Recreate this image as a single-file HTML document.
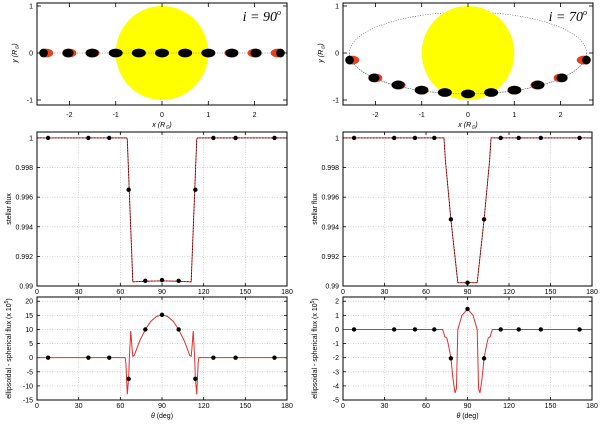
<!DOCTYPE html>
<html><head><meta charset="utf-8"><style>
html,body{margin:0;padding:0;background:#fff}
svg{display:block;font-family:"Liberation Sans",sans-serif}
</style></head><body>
<svg id="fig" width="600" height="425" viewBox="0 0 600 425" xmlns="http://www.w3.org/2000/svg"></svg>
<script>
// ---- data ----
const thetaTicks=[0,30,60,90,120,150,180];
const fluxTicks=[0.99,0.992,0.994,0.996,0.998,1];
const fluxTickLabels=["0.99","0.992","0.994","0.996","0.998","1"];
const diffTicksL=[-15,-10,-5,0,5,10,15,20];
const diffTicksR=[-5,-4,-3,-2,-1,0,1,2];
const xTicks=[-2,-1,0,1,2];
const yTicks=[-1,0,1];
// planets i=90
const planetX90=[-2.5,-2,-1.5,-1,-0.5,0,0.5,1,1.5,2,2.5];
const planetY90=[0,0,0,0,0,0,0,0,0,0,0];
const planetRed90=[0.55,0.3,0.1,0,0,0,0,0,-0.1,-0.3,-0.55];
// planets i=70
const planetX70=[-2.5,-2,-1.5,-1,-0.5,0,0.5,1,1.5,2,2.5];
const planetY70=[-0.15,-0.53,-0.68,-0.79,-0.84,-0.87,-0.84,-0.79,-0.68,-0.53,-0.15];
const planetRed70=[0.55,0.3,0.1,0.05,0,0,0,-0.05,-0.1,-0.3,-0.55];
// stellar flux
const ptTheta=[8,37,52,66,78,90,102,114,127,143,171];
const ptFluxL=[1,1,1,0.9965,0.99035,0.9904,0.99035,0.9965,1,1,1];
const ptFluxR=[1,1,1,1,0.9945,0.99022,0.9945,1,1,1,1];
const curveThetaL=[0,64.5,65,69,78,90,102,111,115,115.5,180];
const curveFluxL=[1,1,0.9999,0.99028,0.99032,0.99035,0.99032,0.99028,0.9999,1,1];
const curveThetaR=[0,73,74,78,83,90,97,102,106,107,180];
const curveFluxR=[1,1,0.9985,0.9945,0.99022,0.99022,0.99022,0.9945,0.9985,1,1];
// diff flux
const ptDiffL=[0,0,0,-7.5,10,15.2,10,-7.5,0,0,0];
const ptDiffR=[0,0,0,0,-2.05,1.45,-2.05,0,0,0,0];
const curveDThetaL=[0,63.5,64,65,66,66.5,67.5,68.5,69,70,74,78,82,86,90,94,98,102,106,110,111,111.5,112.5,113.5,114,115,116,116.5,180];
const curveDiffL=[0,0,-2,-13,-7,0,9.5,3,0.5,0.8,6,10,12.9,14.6,15.2,14.6,12.9,10,6,0.8,0.5,3,9.5,0,-7,-13,-2,0,0];
const curveDThetaR=[0,72,73,73.5,75,76,78,79.5,81,82,83,86,90,94,97,98,99,100.5,102,104,105,106.5,107,108,180];
const curveDiffR=[0,0,-0.3,-0.5,-0.6,-1,-2,-3.5,-4.5,-4.2,0,1,1.45,1,0,-4.2,-4.5,-3.5,-2,-1,-0.6,-0.5,-0.3,0,0];

const NS="http://www.w3.org/2000/svg";
const svg=document.getElementById('fig');
function el(tag,attrs,parent){const e=document.createElementNS(NS,tag);for(const k in attrs)e.setAttribute(k,attrs[k]);(parent||svg).appendChild(e);return e;}
function txt(x,y,s,anchor,size,parent,extra){const t=el('text',Object.assign({x:x,y:y,'text-anchor':anchor||'middle','font-size':size||7,fill:'#000'},extra||{}),parent);t.textContent=s;return t;}
function lin(a,b,c,d){return v=>c+(v-a)/(b-a)*(d-c);}

function frame(x0,y0,x1,y1,name){
  const r=el('rect',{x:x0,y:y0,width:x1-x0,height:y1-y0,fill:'none',stroke:'#000','stroke-width':1});
  
  
}

// ---------- top panels ----------
function topPanel(L,R,T,B,planX,planY,planRed,incl,name){
  const g=el('g',{});
  
  
  const sx=lin(-2.7,2.7,L,R), sy=lin(1,-1,6,100);
  if(incl===90){
    el('line',{x1:L,y1:sy(0),x2:R,y2:sy(0),stroke:'#555','stroke-dasharray':'1,1.5','stroke-width':0.6},g);
  }else{
    el('ellipse',{cx:sx(0),cy:sy(0),rx:sx(2.56)-sx(0),ry:sy(-0.87)-sy(0),fill:'none',stroke:'#555','stroke-dasharray':'1,1.5','stroke-width':0.6},g);
  }
  const sun=el('ellipse',{cx:sx(0),cy:sy(0),rx:sx(1)-sx(0),ry:sy(-1)-sy(0),fill:'#ffff00'},g);
  
  
  if(incl===70){
    el('path',{d:`M ${sx(-2.56)} ${sy(0)} A ${sx(2.56)-sx(0)} ${sy(-0.87)-sy(0)} 0 0 0 ${sx(2.56)} ${sy(0)}`,fill:'none',stroke:'#555','stroke-dasharray':'1,1.5','stroke-width':0.6},g);
  }else{
    el('line',{x1:sx(-1),y1:sy(0),x2:sx(1),y2:sy(0),stroke:'#555','stroke-dasharray':'1,1.5','stroke-width':0.6},g);
  }
  for(let i=0;i<planX.length;i++){
    const cx=sx(planX[i]),cy=sy(planY[i]);
    const pg=el('g',{},g);
    
    
    const red=planRed[i];
    if(red!==0) el('ellipse',{cx:cx,cy:cy,rx:7,ry:4.4,fill:'#e8401c'},pg);
    const rx=7*(1-Math.abs(red)*0.7);
    const off=red>0?-(7-rx):(red<0?(7-rx):0);
    el('ellipse',{cx:cx+off,cy:cy,rx:rx,ry:4.4,fill:'#000'},pg);
  }
  frame(L,3,R,105,name);
  for(const t of xTicks){const x=sx(t);
    el('line',{x1:x,y1:105,x2:x,y2:101,stroke:'#000','stroke-width':0.8},g);
    el('line',{x1:x,y1:3,x2:x,y2:7,stroke:'#000','stroke-width':0.8},g);
    txt(x,117,String(t),'middle',7,g);}
  for(const t of yTicks){const y=sy(t);
    el('line',{x1:L,y1:y,x2:L+4,y2:y,stroke:'#000','stroke-width':0.8},g);
    el('line',{x1:R,y1:y,x2:R-4,y2:y,stroke:'#000','stroke-width':0.8},g);
    txt(L-4,y+2.5,String(t),'end',7,g);}
  const xl=txt((L+R)/2,127,'','middle',7,g,{'font-style':'italic'});
  xl.innerHTML='x (R<tspan font-size="5" dy="1.5">⊙</tspan><tspan dy="-1.5">)</tspan>';
  
  const yl=txt(0,0,'','middle',7,g,{transform:`translate(${L-20},${sy(0)}) rotate(-90)`,'font-style':'italic'});
  yl.innerHTML='y (R<tspan font-size="5" dy="1.5">⊙</tspan><tspan dy="-1.5">)</tspan>';
  
  const lab=txt(R-6,21,'','end',14,g,{'font-family':'"Liberation Serif",serif','font-style':'italic'});
  lab.innerHTML='i = '+incl+'<tspan font-size="8" dy="-6">o</tspan>';
  
}
topPanel(37,287,3,105,planetX90,planetY90,planetRed90,90,'orbit-panel-i90');
topPanel(343,593,3,105,planetX70,planetY70,planetRed70,70,'orbit-panel-i70');

// ---------- data panels ----------
function dataPanel(L,R,T,B,ymin,ymax,ticks,tickLabels,cT,cV,pT,pV,name,ylab,bottomLabels,xTitle,dashed){
  const g=el('g',{});
  
  
  const sx=lin(0,180,L,R), sy=lin(ymin,ymax,B,T);
  for(const t of thetaTicks){const x=sx(t);
    if(t>0&&t<180) el('line',{x1:x,y1:T,x2:x,y2:B,stroke:'#bbb','stroke-dasharray':'1,1.5','stroke-width':0.6},g);
    el('line',{x1:x,y1:B,x2:x,y2:B-3,stroke:'#000','stroke-width':0.8},g);
    el('line',{x1:x,y1:T,x2:x,y2:T+3,stroke:'#000','stroke-width':0.8},g);
    if(bottomLabels) txt(x,B+8,String(t),'middle',7,g);
  }
  ticks.forEach((t,i)=>{const y=sy(t);
    if(y>T+1&&y<B-1) el('line',{x1:L,y1:y,x2:R,y2:y,stroke:'#bbb','stroke-dasharray':'1,1.5','stroke-width':0.6},g);
    el('line',{x1:L,y1:y,x2:L+3,y2:y,stroke:'#000','stroke-width':0.8},g);
    el('line',{x1:R,y1:y,x2:R-3,y2:y,stroke:'#000','stroke-width':0.8},g);
    txt(L-4,y+2.5,tickLabels[i],'end',7,g);});
  const pts=cT.map((t,i)=>sx(t).toFixed(2)+','+sy(cV[i]).toFixed(2)).join(' ');
  const c=el('polyline',{points:pts,fill:'none',stroke:'#e03030','stroke-width':1},g);
  
  
  if(dashed){
    const d=el('polyline',{points:pts,fill:'none',stroke:'#000','stroke-width':0.6,'stroke-dasharray':'1.5,1.5'},g);
    
    
  }
  pT.forEach((t,i)=>{
    const p=el('circle',{cx:sx(t),cy:sy(pV[i]),r:2.2,fill:'#000'},g);
    
    
  });
  frame(L,T,R,B,name);
  const yl=txt(0,0,'','middle',7,g,{transform:`translate(${L-26},${(T+B)/2}) rotate(-90)`});
  yl.innerHTML=ylab;
  
  if(xTitle){
    const xl=txt((L+R)/2,B+18,'','middle',7,g);
    xl.innerHTML='<tspan font-style="italic">θ</tspan> (deg)';
    
  }
}
dataPanel(37,287,132,286,0.99,1.0004,fluxTicks,fluxTickLabels,curveThetaL,curveFluxL,ptTheta,ptFluxL,'stellar-flux-i90','stellar flux',true,false,true);
dataPanel(343,592,132,286,0.99,1.0004,fluxTicks,fluxTickLabels,curveThetaR,curveFluxR,ptTheta,ptFluxR,'stellar-flux-i70','stellar flux',true,false,true);
dataPanel(37,287,297,400,-15,21.5,diffTicksL,diffTicksL.map(String),curveDThetaL,curveDiffL,ptTheta,ptDiffL,'flux-difference-i90','ellipsoidal - spherical flux (x 10<tspan font-size="5" dy="-3">5</tspan><tspan dy="3">)</tspan>',true,true,false);
dataPanel(343,592,297,400,-5,2.3,diffTicksR,diffTicksR.map(String),curveDThetaR,curveDiffR,ptTheta,ptDiffR,'flux-difference-i70','ellipsoidal - spherical flux (x 10<tspan font-size="5" dy="-3">5</tspan><tspan dy="3">)</tspan>',true,true,false);
</script>
</body></html>
